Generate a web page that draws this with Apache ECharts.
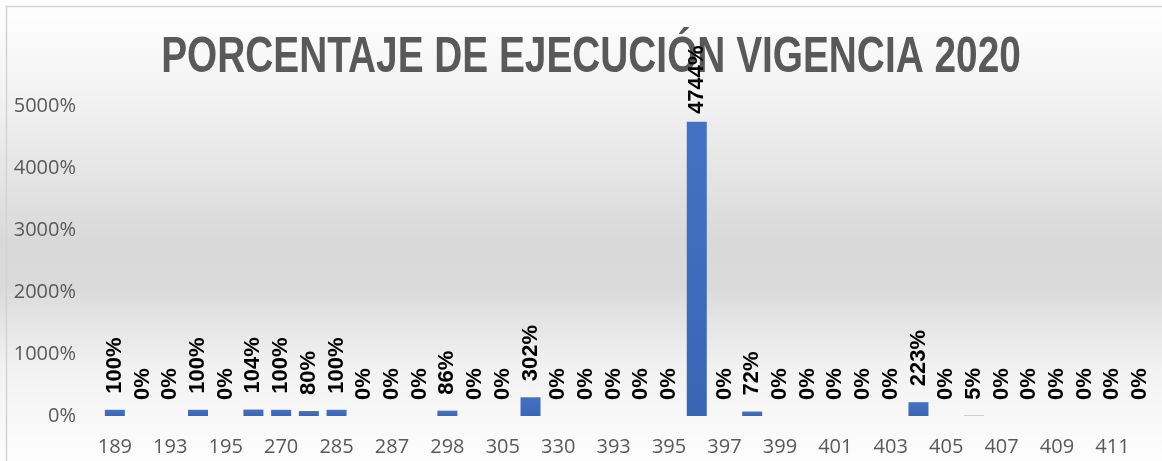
<!DOCTYPE html>
<html>
<head>
<meta charset="utf-8">
<script src="https://cdn.jsdelivr.net/npm/echarts@6/dist/echarts.min.js"></script>
<style>
  html, body { margin: 0; padding: 0; background: #fff; }
  #chart { width: 1162px; height: 461px; }
</style>
</head>
<body>
<div id="chart"></div>
<script>
// categories (only every other one is labelled on the axis)
var categorias = ["189", "191", "193", "194", "195", "196", "270", "280", "285", "286",
  "287", "290", "298", "300", "305", "310", "330", "392", "393", "394",
  "395", "396", "397", "398", "399", "400", "401", "402", "403", "404",
  "405", "406", "407", "408", "409", "410", "411", "412"];
// porcentaje de ejecución (%)
var porcentajes = [100, 0, 0, 100, 0, 104, 100, 80, 100, 0,
  0, 0, 86, 0, 0, 302, 0, 0, 0, 0,
  0, 4744, 0, 72, 0, 0, 0, 0, 0, 223,
  0, 5, 0, 0, 0, 0, 0, 0];
var titulo = "PORCENTAJE DE EJECUCIÓN VIGENCIA 2020";

var chart = echarts.init(document.getElementById("chart"), null, { renderer: "canvas" });

var maxVal = Math.max.apply(null, porcentajes);
var barData = porcentajes.map(function (v) {
  // the tallest label sits closer to its bar in the original
  if (v === maxVal) return { value: v, label: { distance: 8 } };
  return v;
});

var option = {
  animation: false,
  backgroundColor: {
    type: "linear", x: 0, y: 0, x2: 0, y2: 1,
    colorStops: [
      { offset: 0, color: "#ffffff" },
      { offset: 0.2, color: "#f3f3f3" },
      { offset: 0.52, color: "#d9d9d9" },
      { offset: 0.62, color: "#dadada" },
      { offset: 0.8, color: "#f2f2f2" },
      { offset: 1, color: "#fdfdfd" }
    ]
  },
  graphic: [
    {
      type: "rect",
      shape: { x: 6.5, y: 6.5, width: 1200, height: 500 },
      style: { fill: null, stroke: "#d4d4d4", lineWidth: 1.5 },
      silent: true
    },
    {
      type: "text",
      x: 591,
      y: 58,
      scaleX: 0.776,
      style: {
        text: titulo,
        font: "bold 50px 'Liberation Sans', Arial, sans-serif",
        fill: "#595959",
        align: "center",
        verticalAlign: "middle"
      },
      z: -1
    }
  ],
  grid: { left: 101, right: 8, top: 106, bottom: 45 },
  xAxis: {
    type: "category",
    data: categorias,
    axisLine: { show: false },
    axisTick: { show: false },
    axisLabel: {
      interval: 1,
      margin: 21,
      color: "#595959",
      fontSize: 20,
      fontFamily: "Open Sans"
    }
  },
  yAxis: {
    type: "value",
    min: 0,
    max: 5000,
    interval: 1000,
    splitLine: { show: false },
    axisLine: { show: false },
    axisTick: { show: false },
    axisLabel: {
      margin: 25,
      formatter: function (v) { return v + "%"; },
      color: "#595959",
      fontSize: 20,
      fontFamily: "Open Sans"
    }
  },
  series: [
    {
      type: "bar",
      data: barData,
      barWidth: 20,
      itemStyle: {
        color: {
          type: "linear", x: 0, y: 0, x2: 0, y2: 1,
          colorStops: [
            { offset: 0, color: "#4472c4" },
            { offset: 1, color: "#3a65b3" }
          ]
        }
      },
      label: {
        show: true,
        position: "top",
        rotate: 90,
        align: "left",
        verticalAlign: "middle",
        distance: 16,
        formatter: "{c}%",
        color: "#000",
        fontWeight: "bold",
        fontSize: 22,
        fontFamily: "Liberation Sans"
      }
    }
  ]
};

chart.setOption(option);
</script>
</body>
</html>
